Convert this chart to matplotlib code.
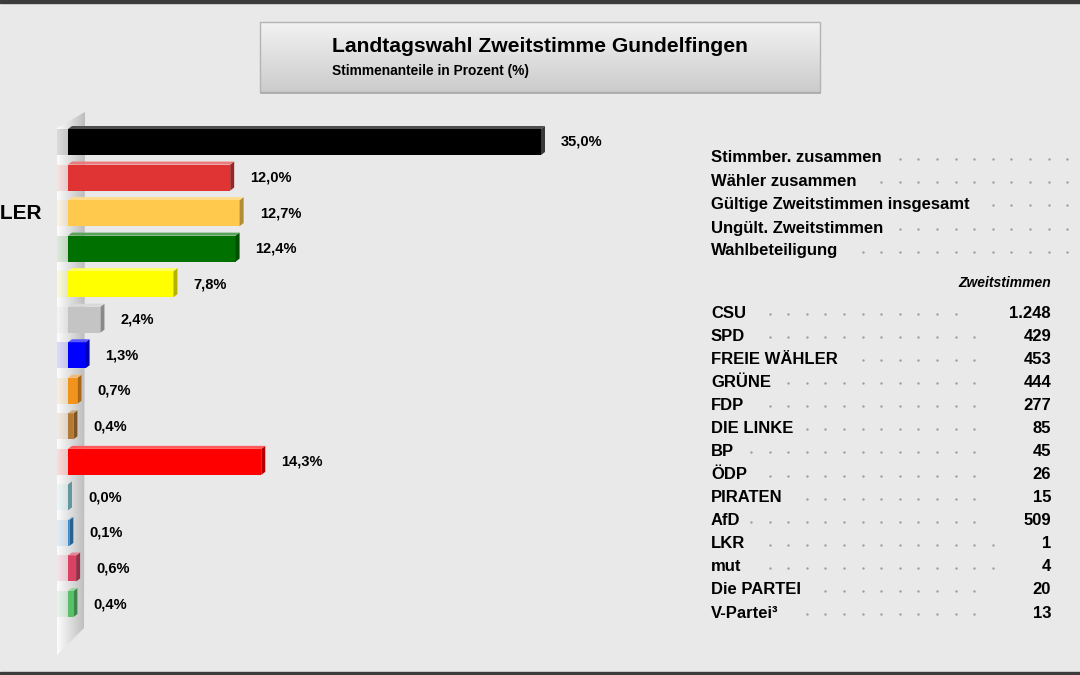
import matplotlib
matplotlib.use("Agg")
import matplotlib.pyplot as plt
import numpy as np
from matplotlib.patches import Polygon, Rectangle
from matplotlib.colors import to_rgb

plt.rcParams['font.family'] = ['Liberation Sans', 'DejaVu Sans']

# data
parties = ["CSU", "SPD", "FREIE WÄHLER", "GRÜNE", "FDP", "DIE LINKE", "BP", "ÖDP",
           "PIRATEN", "AfD", "LKR", "mut", "Die PARTEI", "V-Partei³"]
shares = [35.0, 12.0, 12.7, 12.4, 7.8, 2.4, 1.3, 0.7, 0.4, 14.3, 0.0, 0.1, 0.6, 0.4]
votes = [1248, 429, 453, 444, 277, 85, 45, 26, 15, 509, 1, 4, 20, 13]
colors = ["#000000", "#e03434", "#ffc94d", "#007000", "#ffff00", "#c4c4c4", "#0000ff",
          "#f0941e", "#b37a35", "#ff0000", "#8ad8e0", "#3a8ccc", "#d94262", "#58c068"]
summary_labels = ["Stimmber. zusammen", "Wähler zusammen", "Gültige Zweitstimmen insgesamt",
                  "Ungült. Zweitstimmen", "Wahlbeteiligung"]
title = "Landtagswahl Zweitstimme Gundelfingen"
subtitle = "Stimmenanteile in Prozent (%)"

W, H = 1080, 675
BG = "#e9e9e9"

def shade(c, f):
    r, g, b = to_rgb(c)
    if f < 1:
        return (r * f, g * f, b * f)
    f = f - 1
    return (r + (1 - r) * f, g + (1 - g) * f, b + (1 - b) * f)

fig = plt.figure(figsize=(W / 100, H / 100), dpi=100, facecolor=BG)

# overlay in pixel coords
tax = fig.add_axes([0, 0, 1, 1], zorder=0)
tax.set_xlim(0, W)
tax.set_ylim(H, 0)
tax.axis('off')
tax.add_patch(Rectangle((0, 0), W, 3, color="#3c3c3c"))
tax.add_patch(Rectangle((0, H - 3), W, 3, color="#3c3c3c"))

# title box
grad = np.linspace(0.95, 0.80, 50).reshape(-1, 1)
tax.imshow(np.dstack([grad, grad, grad]), extent=(260, 820, 92, 22), aspect='auto', zorder=1)
tax.add_patch(Rectangle((260, 22), 560, 70, fill=False, ec="#b4b4b4", lw=1, zorder=2))
tax.plot([261, 820], [93, 93], color="#a8a8a8", lw=1.2, zorder=2)
tax.text(332, 47, title, fontsize=15.2, fontweight='bold', va='center', zorder=3)
tax.text(332, 71, subtitle, fontsize=9.9, fontweight='bold', va='center', zorder=3)

# bar axes: 0% at x=68px, 35% at 541px; rows from y=142px step 35.54px
px_per = (541 - 68) / 35.0
row = 35.54
left_px, right_px, top_px, bot_px = 40, 680, 105, 660
ax = fig.add_axes([left_px / W, 1 - bot_px / H, (right_px - left_px) / W, (bot_px - top_px) / H], zorder=1)
ax.axis('off')
ax.patch.set_alpha(0)

def dx(px):
    return px / px_per

def dy(px):
    return px / row

# 3d wall behind the bars
wall = Polygon([(dx(-11), dy(-14)), (dx(17), dy(-30)), (dx(16), dy(486)), (dx(-11), dy(513))],
               closed=True, fc='none', ec='none')
ax.add_patch(wall)
g = np.linspace(0.99, 0.74, 60).reshape(1, -1)
img = ax.imshow(np.dstack([g, g, g]), extent=(dx(-11), dx(17), dy(513), dy(-30)),
                aspect='auto', zorder=1)
img.set_clip_path(wall)
ax.set_xlim((left_px - 68) / px_per, (right_px - 68) / px_per)
ax.set_ylim((bot_px - 142) / row, (top_px - 142) / row)

n = len(parties)
h = 26 / row
y = np.arange(n)

# tinted shadows on the wall
for i in range(n):
    ax.add_patch(Rectangle((dx(-11), i - h / 2), dx(11), h, color=colors[i], alpha=0.13, lw=0, zorder=2))

ax.barh(y, shares, height=h, color=colors, zorder=3)

d, e = dx(4), dy(3)
for i, v in enumerate(shares):
    c = colors[i]
    side = shade(c, 0.7) if c != "#000000" else (0.22, 0.22, 0.22)
    top = shade(c, 1.35) if c != "#000000" else (0.3, 0.3, 0.3)
    ax.add_patch(Polygon([(v, i - h / 2), (v + d, i - h / 2 - e), (v + d, i + h / 2 - e), (v, i + h / 2)],
                         closed=True, fc=side, ec='none', zorder=4))
    ax.add_patch(Polygon([(0, i - h / 2), (d, i - h / 2 - e), (v + d, i - h / 2 - e), (v, i - h / 2)],
                         closed=True, fc=top, ec='none', zorder=4))
    ax.text(v + dx(20), i, f"{v:.1f}".replace('.', ',') + "%", fontsize=10.5, fontweight='bold',
            va='center', ha='left', zorder=5)

# category labels (left aligned, mostly outside the picture)
cat_texts = [ax.text(0, i, p, fontsize=15, fontweight='bold', va='center', ha='left', clip_on=False)
             for i, p in enumerate(parties)]

# right table
lab_x = 711
sum_y = [158, 181, 204, 228, 251]
party_y = [313 + 23.08 * i for i in range(n)]
sum_texts = [tax.text(lab_x, yy, s, fontsize=12, fontweight='bold', va='center', zorder=3)
             for s, yy in zip(summary_labels, sum_y)]
party_texts = [tax.text(lab_x, yy, p, fontsize=12, fontweight='bold', va='center', zorder=3)
               for p, yy in zip(parties, party_y)]
val_texts = [tax.text(1051, yy, f"{v:,}".replace(',', '.'), fontsize=12, fontweight='bold',
                      va='center', ha='right', zorder=3)
             for v, yy in zip(votes, party_y)]
tax.text(1051, 283, "Zweitstimmen", fontsize=10, fontweight='bold', style='italic',
         va='center', ha='right', zorder=3)

fig.canvas.draw()
r = fig.canvas.get_renderer()

# left aligned so that "FREIE WÄHLER" ends at x=42px
fw = cat_texts[2].get_window_extent(r)
x_start = ax.transData.inverted().transform((42 - fw.width, 0))[0]
for t in cat_texts:
    t.set_x(x_start)

def dots(y0, x_from, x_to):
    step, g0 = 18.6, 751
    k0 = int(np.ceil((x_from - g0) / step))
    xs = [g0 + k * step for k in range(k0, 200) if g0 + k * step <= x_to]
    tax.plot(xs, [y0 + 1] * len(xs), 'o', ms=1.7, color="#9c9c9c", mec='none', zorder=3)

for t, yy in zip(sum_texts, sum_y):
    x1 = t.get_window_extent(r).x1
    dots(yy, x1 + 10, W + 5)
for t, vt, yy in zip(party_texts, val_texts, party_y):
    x1 = t.get_window_extent(r).x1
    vx0 = vt.get_window_extent(r).x0
    dots(yy, x1 + 10, vx0 - 42)

fig.savefig("out.png", dpi=100, facecolor=BG)
